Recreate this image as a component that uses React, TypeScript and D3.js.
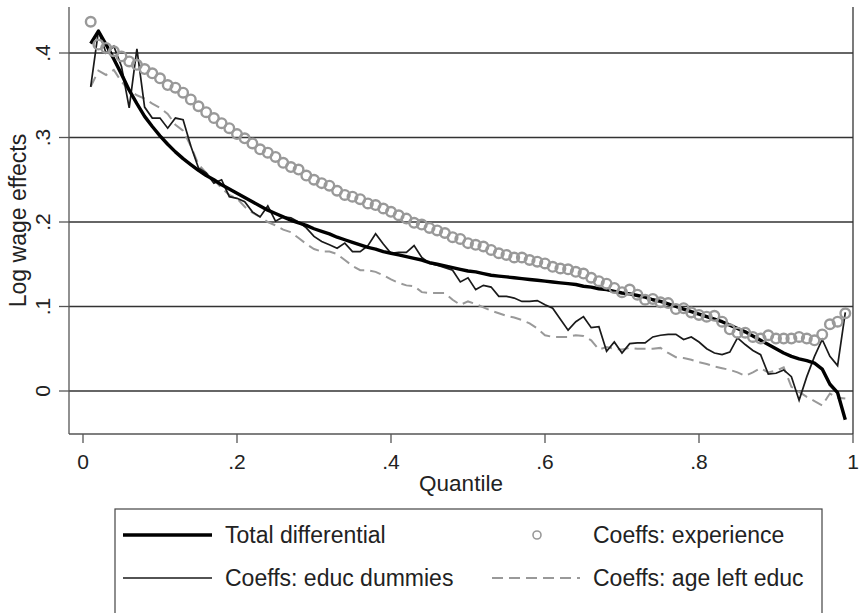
import React from "react";
import * as d3 from "d3";

// Quantiles 0.01 .. 0.99
const quantiles: number[] = Array.from({ length: 99 }, (_, i) => (i + 1) / 100);

const totalDifferential: number[] = [
  0.411, 0.426, 0.41, 0.393, 0.375, 0.356, 0.34, 0.325, 0.313, 0.302,
  0.292, 0.283, 0.275, 0.268, 0.261, 0.255, 0.25, 0.244, 0.239, 0.234,
  0.229, 0.224, 0.219, 0.214, 0.21, 0.206, 0.202, 0.199, 0.196, 0.192,
  0.189, 0.186, 0.182, 0.179, 0.176, 0.173, 0.17, 0.168, 0.165, 0.163,
  0.161, 0.159, 0.157, 0.155, 0.152, 0.15, 0.148, 0.146, 0.144, 0.142,
  0.141, 0.139, 0.137, 0.136, 0.135, 0.134, 0.133, 0.132, 0.131, 0.13,
  0.129, 0.128, 0.127, 0.126, 0.124, 0.123, 0.121, 0.12, 0.118, 0.116,
  0.115, 0.113, 0.111, 0.108, 0.106, 0.103, 0.1, 0.097, 0.094, 0.091,
  0.088, 0.085, 0.082, 0.078, 0.074, 0.07, 0.065, 0.06, 0.055, 0.05,
  0.045, 0.041, 0.038, 0.036, 0.033, 0.026, 0.008, -0.002, -0.034,
];

const educDummies: number[] = [
  0.36, 0.426, 0.4, 0.408, 0.384, 0.335, 0.405, 0.336, 0.323, 0.323,
  0.311, 0.323, 0.321, 0.29, 0.264, 0.258, 0.246, 0.25, 0.23, 0.228,
  0.224, 0.212, 0.206, 0.219, 0.201, 0.206, 0.205, 0.2, 0.193, 0.183,
  0.177, 0.173, 0.169, 0.175, 0.165, 0.165, 0.172, 0.186, 0.174, 0.163,
  0.164, 0.164, 0.172, 0.158, 0.151, 0.149, 0.146, 0.143, 0.129, 0.134,
  0.12, 0.125, 0.123, 0.112, 0.112, 0.11, 0.106, 0.106, 0.107, 0.102,
  0.098, 0.085, 0.072, 0.082, 0.088, 0.075, 0.076, 0.047, 0.058, 0.045,
  0.056, 0.057, 0.057, 0.064, 0.066, 0.067, 0.067, 0.061, 0.064, 0.058,
  0.05, 0.045, 0.043, 0.046, 0.063, 0.055, 0.048, 0.043, 0.02, 0.021,
  0.025, 0.017, -0.011, 0.017, 0.041, 0.061, 0.041, 0.03, 0.093,
];

const experience: number[] = [
  0.437, 0.41, 0.406, 0.402, 0.396, 0.39, 0.386, 0.381, 0.376, 0.37,
  0.362, 0.359, 0.353, 0.345, 0.337, 0.33, 0.323, 0.317, 0.311, 0.304,
  0.299, 0.293, 0.286, 0.282, 0.277, 0.27, 0.265, 0.262, 0.255, 0.25,
  0.246, 0.243, 0.237, 0.232, 0.23, 0.227, 0.222, 0.22, 0.216, 0.212,
  0.208, 0.204, 0.199, 0.197, 0.193, 0.19, 0.187, 0.182, 0.18, 0.175,
  0.173, 0.171, 0.167, 0.163, 0.161, 0.158, 0.158, 0.155, 0.153, 0.151,
  0.147, 0.145, 0.144, 0.141, 0.139, 0.134, 0.13, 0.127, 0.122, 0.117,
  0.12, 0.114, 0.108, 0.109, 0.105, 0.104, 0.097, 0.098, 0.093, 0.09,
  0.088, 0.089, 0.082, 0.073, 0.069, 0.069, 0.064, 0.062, 0.066, 0.062,
  0.062, 0.062, 0.064, 0.062, 0.06, 0.067, 0.079, 0.082, 0.092,
];

const ageLeftEduc: number[] = [
  0.36, 0.379, 0.374, 0.38, 0.366, 0.356, 0.35, 0.346, 0.34, 0.335,
  0.328, 0.315, 0.308, 0.29, 0.268, 0.258, 0.25, 0.24, 0.232, 0.228,
  0.218, 0.211, 0.206, 0.2, 0.196, 0.191, 0.188, 0.181, 0.174, 0.168,
  0.165, 0.165, 0.162, 0.155, 0.148, 0.143, 0.143, 0.141, 0.137, 0.132,
  0.128, 0.125, 0.124, 0.117, 0.116, 0.116, 0.116, 0.108, 0.102, 0.106,
  0.103, 0.099, 0.095, 0.092, 0.089, 0.087, 0.084, 0.08, 0.074, 0.066,
  0.064, 0.064, 0.064, 0.066, 0.065, 0.06, 0.049, 0.052, 0.05, 0.049,
  0.051, 0.05, 0.05, 0.05, 0.051, 0.045, 0.04, 0.039, 0.037, 0.034,
  0.032, 0.029, 0.027, 0.025, 0.022, 0.018, 0.022, 0.027, 0.022, 0.024,
  0.028, 0.005, -0.001, -0.007, -0.012, -0.017, -0.003, -0.008, -0.009,
];

const xTicks: number[] = [0, 0.2, 0.4, 0.6, 0.8, 1];
const xTickLabels: string[] = ["0", ".2", ".4", ".6", ".8", "1"];
const yTicks: number[] = [0, 0.1, 0.2, 0.3, 0.4];
const yTickLabels: string[] = ["0", ".1", ".2", ".3", ".4"];

const W = 861;
const H = 613;
const FONT = "'Liberation Sans', Arial, sans-serif";

const plotLeft = 69;
const plotRight = 853;
const plotTop = 7;
const plotBottom = 434;

export default function App() {
  const x = d3.scaleLinear().domain([0, 1]).range([83, 853]);
  const y = d3.scaleLinear().domain([0, 0.4]).range([391, 53]);

  const line = (vals: number[]) =>
    d3
      .line<number>()
      .x((_, i) => x(quantiles[i]))
      .y((v) => y(v))(vals) || "";

  return (
    <svg
      width={W}
      height={H}
      style={{ position: "absolute", left: 0, top: 0, background: "#fff" }}
      fontFamily={FONT}
    >
      <rect x={0} y={0} width={W} height={H} fill="#fff" />

      {/* horizontal grid lines at the y ticks */}
      {yTicks.map((t) => (
        <line key={"g" + t} x1={plotLeft} x2={plotRight} y1={y(t)} y2={y(t)} stroke="#333" strokeWidth={1.3} />
      ))}

      {/* axes */}
      <line x1={plotLeft} x2={plotLeft} y1={plotTop} y2={plotBottom} stroke="#555" strokeWidth={1.3} />
      <line x1={plotLeft} x2={plotRight} y1={plotBottom} y2={plotBottom} stroke="#555" strokeWidth={1.3} />
      <line x1={plotRight} x2={plotRight} y1={plotTop} y2={plotBottom} stroke="#333" strokeWidth={1.3} />

      {/* y ticks */}
      {yTicks.map((t, i) => (
        <g key={"yt" + t}>
          <line x1={plotLeft - 10} x2={plotLeft} y1={y(t)} y2={y(t)} stroke="#555" strokeWidth={1.3} />
          <text
            transform={`translate(${50},${y(t)}) rotate(-90)`}
            textAnchor="middle"
            fontSize={21}
            fill="#222"
          >
            {yTickLabels[i]}
          </text>
        </g>
      ))}

      {/* x ticks */}
      {xTicks.map((t, i) => (
        <g key={"xt" + t}>
          <line x1={x(t)} x2={x(t)} y1={plotBottom} y2={plotBottom + 9} stroke="#555" strokeWidth={1.3} />
          <text x={x(t)} y={469} textAnchor="middle" fontSize={21} fill="#222">
            {xTickLabels[i]}
          </text>
        </g>
      ))}

      {/* axis titles */}
      <text x={(plotLeft + plotRight) / 2} y={491} textAnchor="middle" fontSize={22.5} fill="#222">
        Quantile
      </text>
      <text
        transform={`translate(${26},${(plotTop + plotBottom) / 2}) rotate(-90)`}
        textAnchor="middle"
        fontSize={23}
        fill="#222"
      >
        Log wage effects
      </text>

      {/* series */}
      <path d={line(ageLeftEduc)} fill="none" stroke="#999" strokeWidth={2} strokeDasharray="11 6" />
      <path d={line(educDummies)} fill="none" stroke="#1a1a1a" strokeWidth={1.7} strokeLinejoin="miter" />
      <path d={line(totalDifferential)} fill="none" stroke="#000" strokeWidth={3.4} strokeLinejoin="round" />
      {experience.map((v, i) => (
        <circle key={"c" + i} cx={x(quantiles[i])} cy={y(v)} r={4.8} fill="none" stroke="#999" strokeWidth={2.4} />
      ))}

      {/* legend */}
      <rect x={115} y={509} width={707} height={140} fill="#fff" stroke="#444" strokeWidth={1.2} />
      <line x1={123} x2={212} y1={535} y2={535} stroke="#000" strokeWidth={3.4} />
      <text x={225} y={543} fontSize={23} fill="#222">Total differential</text>
      <circle cx={537} cy={535} r={4} fill="none" stroke="#999" strokeWidth={1.6} />
      <text x={593} y={543} fontSize={23} fill="#222">Coeffs: experience</text>
      <line x1={123} x2={212} y1={578} y2={578} stroke="#1a1a1a" strokeWidth={1.7} />
      <text x={225} y={586} fontSize={23} fill="#222">Coeffs: educ dummies</text>
      <line x1={492} x2={580} y1={578} y2={578} stroke="#999" strokeWidth={2} strokeDasharray="11 6" />
      <text x={593} y={586} fontSize={23} fill="#222">Coeffs: age left educ</text>
    </svg>
  );
}
